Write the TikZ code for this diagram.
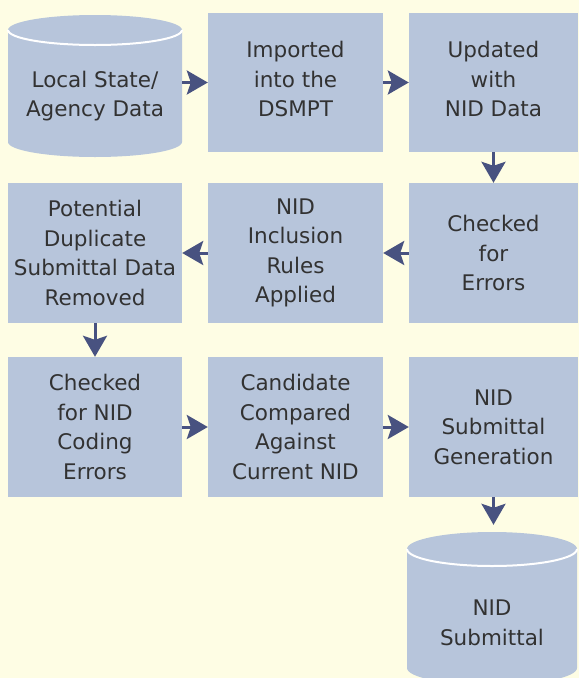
\documentclass[tikz,border=0pt]{standalone}
\usepackage{fontspec}
\setmainfont{DejaVu Sans}
\usetikzlibrary{arrows.meta}
\definecolor{bgc}{RGB}{254,253,228}
\definecolor{boxc}{RGB}{183,197,219}
\definecolor{arrc}{RGB}{72,82,128}
\definecolor{txtc}{RGB}{50,50,50}
\begin{document}
\begin{tikzpicture}[x=1pt,y=1pt,
  txt/.style={inner sep=0pt, align=center, text=txtc, font=\fontsize{21.5}{29.5}\selectfont},
  stepbox/.style={txt, fill=boxc, draw=none},
  ghost/.style={inner sep=0pt, draw=none, fill=none},
  arr/.style={draw=arrc, line width=3pt, -{Stealth[length=21pt,width=24pt,inset=4pt]}},
  cylwhite/.style={draw=white, line width=2pt}
]
\fill[bgc] (0,0) rectangle (579,-678);
\useasboundingbox (0,0) rectangle (579,-678);
\clip (0,0) rectangle (579,-678);

% cylinder 1
\fill[boxc] (8,-30) -- (8,-142) arc[start angle=180, end angle=360, x radius=87pt, y radius=15pt]
  -- (182,-30) arc[start angle=0, end angle=180, x radius=87pt, y radius=15pt] -- cycle;
\draw[cylwhite] (8,-30) arc[start angle=180, end angle=360, x radius=87pt, y radius=15pt];
\node[ghost, minimum width=174pt, minimum height=142pt] (cyl1) at (95,-86) {};
\node[txt] (cyl1t) at (95,-96) {Local State/\\Agency Data};

% cylinder 2
\fill[boxc] (407,-549) -- (407,-668) arc[start angle=180, end angle=360, x radius=85pt, y radius=17pt]
  -- (577,-549) arc[start angle=0, end angle=180, x radius=85pt, y radius=17pt] -- cycle;
\draw[cylwhite] (407,-549) arc[start angle=180, end angle=360, x radius=85pt, y radius=17pt];
\node[ghost, minimum width=170pt, minimum height=146pt] (cyl2) at (492,-605) {};
\node[txt] (cyl2t) at (492,-623) {NID\\Submittal};

% boxes
\node[stepbox, minimum width=175pt, minimum height=139pt] (imp) at (295.5,-82.5) {};
\node[txt] (impt) at (295.5,-79) {Imported\\into the\\DSMPT};
\node[stepbox, minimum width=169pt, minimum height=139pt] (upd) at (493.5,-82.5) {};
\node[txt] (updt) at (493.5,-79) {Updated\\with\\NID Data};
\node[stepbox, minimum width=169pt, minimum height=140pt] (chk) at (493.5,-253) {Checked\\for\\Errors};
\node[stepbox, minimum width=175pt, minimum height=140pt] (inc) at (295.5,-253) {NID\\Inclusion\\Rules\\Applied};
\node[stepbox, minimum width=174pt, minimum height=140pt] (dup) at (95,-253) {Potential\\Duplicate\\Submittal Data\\Removed};
\node[stepbox, minimum width=174pt, minimum height=140pt] (cod) at (95,-427) {Checked\\for NID\\Coding\\Errors};
\node[stepbox, minimum width=175pt, minimum height=140pt] (cand) at (295.5,-427) {Candidate\\Compared\\Against\\Current NID};
\node[stepbox, minimum width=169pt, minimum height=140pt] (gen) at (493.5,-427) {NID\\Submittal\\Generation};

% arrows
\draw[arr] (cyl1.east |- imp.west) -- (imp.west);
\draw[arr] (imp) -- (upd);
\draw[arr] (upd) -- (chk);
\draw[arr] (chk) -- (inc);
\draw[arr] (inc) -- (dup);
\draw[arr] (dup) -- (cod);
\draw[arr] (cod) -- (cand);
\draw[arr] (cand) -- (gen);
\draw[arr, shorten >=7pt] (gen.south) -- (gen.south |- cyl2.north);
\end{tikzpicture}
\end{document}
